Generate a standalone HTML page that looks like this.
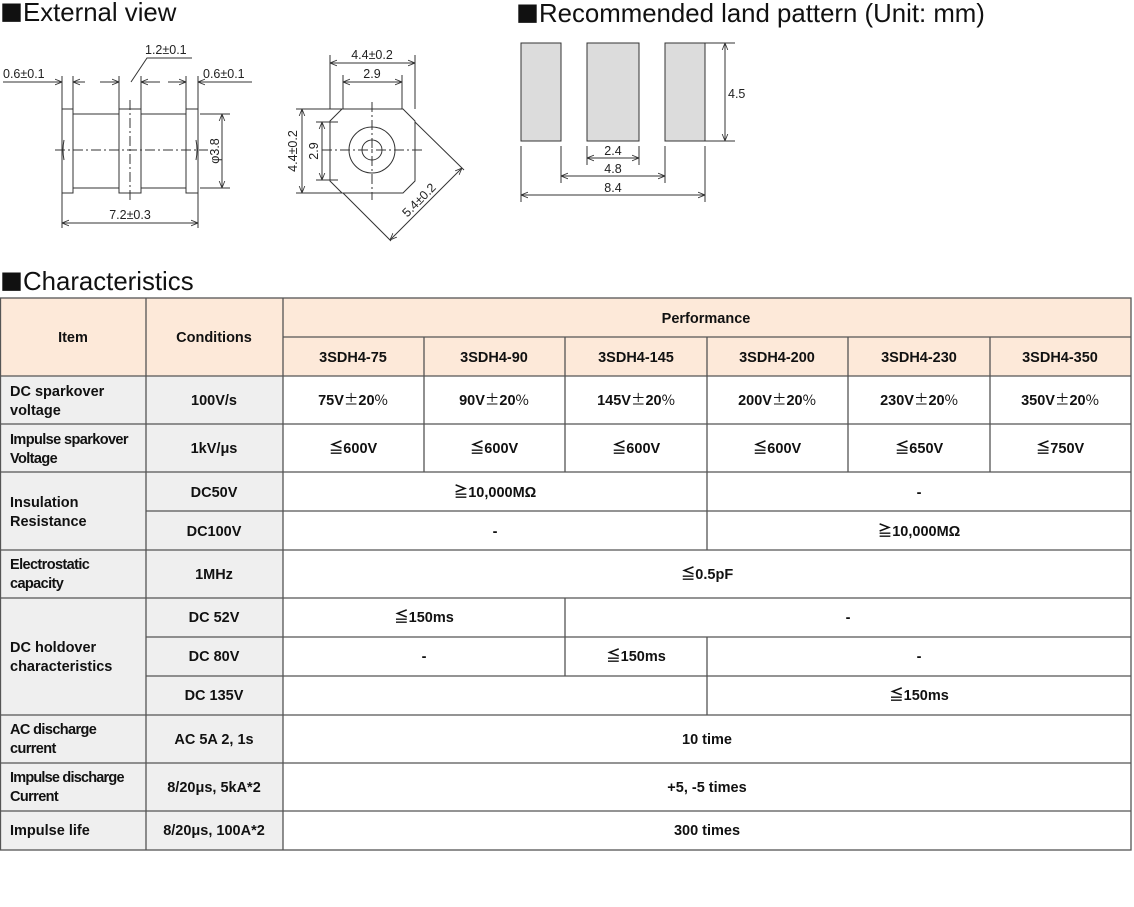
<!DOCTYPE html>
<html><head><meta charset="utf-8"><style>
body{margin:0;background:#fff}
svg{display:block}
.t{font-family:"Liberation Sans",sans-serif}
.c{font-family:"Liberation Sans","Noto Sans CJK JP",sans-serif;font-weight:bold;font-size:14.5px;fill:#111}
.d{font-family:"Liberation Sans",sans-serif;font-size:12.5px;fill:#222}
.j{font-family:"Noto Sans CJK JP",sans-serif;font-weight:normal}
</style></head><body>
<svg width="1134" height="907" viewBox="0 0 1134 907" xmlns="http://www.w3.org/2000/svg">
<defs>
<marker id="a" viewBox="0 0 10 10" refX="10" refY="5" markerWidth="7" markerHeight="7" orient="auto-start-reverse"><path d="M0,1 L10,5 L0,9" fill="none" stroke="#333" stroke-width="1.2"/></marker>
</defs>
<g class="t" font-size="25.8" fill="#111">
<text x="0" y="21"><tspan class="j" font-size="23">■</tspan>External view</text>
<text x="516" y="22"><tspan class="j" font-size="23">■</tspan>Recommended land pattern (Unit: mm)</text>
<text x="0" y="290"><tspan class="j" font-size="23">■</tspan>Characteristics</text>
</g>
<!-- Left drawing -->
<g stroke="#333" stroke-width="1" fill="none">
<rect x="73" y="114" width="46" height="74" fill="#fff"/>
<rect x="141" y="114" width="45" height="74" fill="#fff"/>
<rect x="62" y="109" width="11" height="84" fill="#fff"/>
<rect x="119" y="109" width="22" height="84" fill="#fff"/>
<rect x="186" y="109" width="12" height="84" fill="#fff"/>
<path d="M64,140 Q62,150 64,160 M196,140 Q198,150 196,160"/>
<line x1="55" y1="150" x2="208" y2="150" stroke-dasharray="10,3,2,3"/>
<line x1="130" y1="100" x2="130" y2="200" stroke-dasharray="10,3,2,3"/>
<path d="M62,76V109 M73,76V109 M119,76V109 M141,76V109 M186,76V109 M198,76V109"/>
<line x1="3" y1="82" x2="62" y2="82" marker-end="url(#a)"/>
<line x1="85" y1="82" x2="73" y2="82" marker-end="url(#a)"/>
<line x1="100" y1="82" x2="119" y2="82" marker-end="url(#a)"/>
<line x1="160" y1="82" x2="141" y2="82" marker-end="url(#a)"/>
<line x1="168" y1="82" x2="186" y2="82" marker-end="url(#a)"/>
<line x1="252" y1="82" x2="198" y2="82" marker-end="url(#a)"/>
<path d="M131,82 L147,58 H192"/>
<path d="M200,114H230 M200,188H230"/>
<line x1="222" y1="114" x2="222" y2="188" marker-start="url(#a)" marker-end="url(#a)"/>
<path d="M62,193V228 M198,193V228"/>
<line x1="62" y1="223" x2="198" y2="223" marker-start="url(#a)" marker-end="url(#a)"/>
</g>
<text class="d" x="3" y="78">0.6±0.1</text>
<text class="d" x="145" y="54">1.2±0.1</text>
<text class="d" x="203" y="78">0.6±0.1</text>
<text class="d" x="130" y="219" text-anchor="middle">7.2±0.3</text>
<text class="d" transform="translate(219,151) rotate(-90)" text-anchor="middle">φ3.8</text>
<!-- Middle drawing -->
<g stroke="#333" stroke-width="1" fill="none">
<path d="M342,109 H403 L415,121 V181 L403,193 H342 L330,181 V121 Z" fill="#fff"/>
<circle cx="372" cy="150" r="23"/>
<circle cx="372" cy="150" r="10"/>
<line x1="322" y1="150" x2="422" y2="150" stroke-dasharray="10,3,2,3"/>
<line x1="372" y1="102" x2="372" y2="200" stroke-dasharray="10,3,2,3"/>
<path d="M330,55V109 M415,55V109 M343,75V109 M402,75V109"/>
<line x1="330" y1="63" x2="415" y2="63" marker-start="url(#a)" marker-end="url(#a)"/>
<line x1="343" y1="82" x2="402" y2="82" marker-start="url(#a)" marker-end="url(#a)"/>
<path d="M296,109H342 M296,193H342 M316,122H338 M316,180H338"/>
<line x1="302" y1="109" x2="302" y2="193" marker-start="url(#a)" marker-end="url(#a)"/>
<line x1="322" y1="122" x2="322" y2="180" marker-start="url(#a)" marker-end="url(#a)"/>
<path d="M415,122 L464,170 M343,193 L391,241"/>
<line x1="462" y1="168" x2="390" y2="240" marker-start="url(#a)" marker-end="url(#a)"/>
</g>
<text class="d" x="372" y="59" text-anchor="middle">4.4±0.2</text>
<text class="d" x="372" y="78" text-anchor="middle">2.9</text>
<text class="d" transform="translate(297,151) rotate(-90)" text-anchor="middle">4.4±0.2</text>
<text class="d" transform="translate(318,151) rotate(-90)" text-anchor="middle">2.9</text>
<text class="d" transform="translate(422,203) rotate(-45)" text-anchor="middle">5.4±0.2</text>
<!-- Land pattern -->
<g stroke="#333" stroke-width="1">
<rect x="521" y="43" width="40" height="98" fill="#dcdcdc"/>
<rect x="587" y="43" width="52" height="98" fill="#dcdcdc"/>
<rect x="665" y="43" width="40" height="98" fill="#dcdcdc"/>
<g fill="none">
<path d="M705,43H735 M705,141H735"/>
<line x1="725" y1="43" x2="725" y2="141" marker-start="url(#a)" marker-end="url(#a)"/>
<path d="M587,146V165 M639,146V165 M561,146V183 M665,146V183 M521,146V202 M705,146V202"/>
<line x1="587" y1="158" x2="639" y2="158" marker-start="url(#a)" marker-end="url(#a)"/>
<line x1="561" y1="176" x2="665" y2="176" marker-start="url(#a)" marker-end="url(#a)"/>
<line x1="521" y1="195" x2="705" y2="195" marker-start="url(#a)" marker-end="url(#a)"/>
</g></g>
<text class="d" x="728" y="98">4.5</text>
<text class="d" x="613" y="155" text-anchor="middle">2.4</text>
<text class="d" x="613" y="173" text-anchor="middle">4.8</text>
<text class="d" x="613" y="192" text-anchor="middle">8.4</text>
<!-- Table backgrounds -->
<rect x="0" y="298" width="1131" height="78" fill="#fde9d9"/>
<rect x="0" y="376" width="283" height="474" fill="#efefef"/>
<g stroke="#555" stroke-width="1.3" fill="none">
<rect x="0.5" y="298" width="1130.5" height="552"/>
<path d="M146,298V850 M283,298V850"/>
<path d="M283,337H1131"/>
<path d="M424,337V472 M565,337V472 M707,337V472 M848,337V472 M990,337V472"/>
<path d="M0,376H1131 M0,424H1131 M0,472H1131 M146,511H1131 M0,550H1131 M0,598H1131 M146,637H1131 M146,676H1131 M0,715H1131 M0,763H1131 M0,811H1131"/>
<path d="M707,472V550 M565,598V676 M707,637V715"/>
</g>
<g class="c" text-anchor="middle">
<text x="73" y="342">Item</text>
<text x="214" y="342">Conditions</text>
<text x="706" y="323">Performance</text>
<text x="353" y="362">3SDH4-75</text>
<text x="494" y="362">3SDH4-90</text>
<text x="636" y="362">3SDH4-145</text>
<text x="777" y="362">3SDH4-200</text>
<text x="919" y="362">3SDH4-230</text>
<text x="1060" y="362">3SDH4-350</text>
<text x="214" y="405">100V/s</text>
<text x="353" y="405">75V<tspan class="j">±</tspan>20<tspan class="j">%</tspan></text>
<text x="494" y="405">90V<tspan class="j">±</tspan>20<tspan class="j">%</tspan></text>
<text x="636" y="405">145V<tspan class="j">±</tspan>20<tspan class="j">%</tspan></text>
<text x="777" y="405">200V<tspan class="j">±</tspan>20<tspan class="j">%</tspan></text>
<text x="919" y="405">230V<tspan class="j">±</tspan>20<tspan class="j">%</tspan></text>
<text x="1060" y="405">350V<tspan class="j">±</tspan>20<tspan class="j">%</tspan></text>
<text x="214" y="453">1kV/μs</text>
<text x="353" y="453">≦600V</text>
<text x="494" y="453">≦600V</text>
<text x="636" y="453">≦600V</text>
<text x="777" y="453">≦600V</text>
<text x="919" y="453">≦650V</text>
<text x="1060" y="453">≦750V</text>
<text x="214" y="497">DC50V</text>
<text x="495" y="497">≧10,000MΩ</text>
<text x="919" y="497">-</text>
<text x="214" y="536">DC100V</text>
<text x="495" y="536">-</text>
<text x="919" y="536">≧10,000MΩ</text>
<text x="214" y="579">1MHz</text>
<text x="707" y="579">≦0.5pF</text>
<text x="214" y="622">DC 52V</text>
<text x="424" y="622">≦150ms</text>
<text x="848" y="622">-</text>
<text x="214" y="661">DC 80V</text>
<text x="424" y="661">-</text>
<text x="636" y="661">≦150ms</text>
<text x="919" y="661">-</text>
<text x="214" y="700">DC 135V</text>
<text x="919" y="700">≦150ms</text>
<text x="214" y="744">AC 5A 2, 1s</text>
<text x="707" y="744">10 time</text>
<text x="214" y="792">8/20μs, 5kA*2</text>
<text x="707" y="792">+5, -5 times</text>
<text x="214" y="835">8/20μs, 100A*2</text>
<text x="707" y="835">300 times</text>
</g>
<g class="c" font-size="14">
<text x="10" y="396">DC sparkover</text><text x="10" y="415">voltage</text>
<text x="10" y="444" letter-spacing="-0.6">Impulse sparkover</text><text x="10" y="463" letter-spacing="-0.6">Voltage</text>
<text x="10" y="507">Insulation</text><text x="10" y="526">Resistance</text>
<text x="10" y="569" letter-spacing="-0.6">Electrostatic</text><text x="10" y="588" letter-spacing="-0.6">capacity</text>
<text x="10" y="652">DC holdover</text><text x="10" y="671">characteristics</text>
<text x="10" y="734" letter-spacing="-0.6">AC discharge</text><text x="10" y="753" letter-spacing="-0.6">current</text>
<text x="10" y="782" letter-spacing="-0.8">Impulse discharge</text><text x="10" y="801" letter-spacing="-0.6">Current</text>
<text x="10" y="835">Impulse life</text>
</g>
</svg>
</body></html>
